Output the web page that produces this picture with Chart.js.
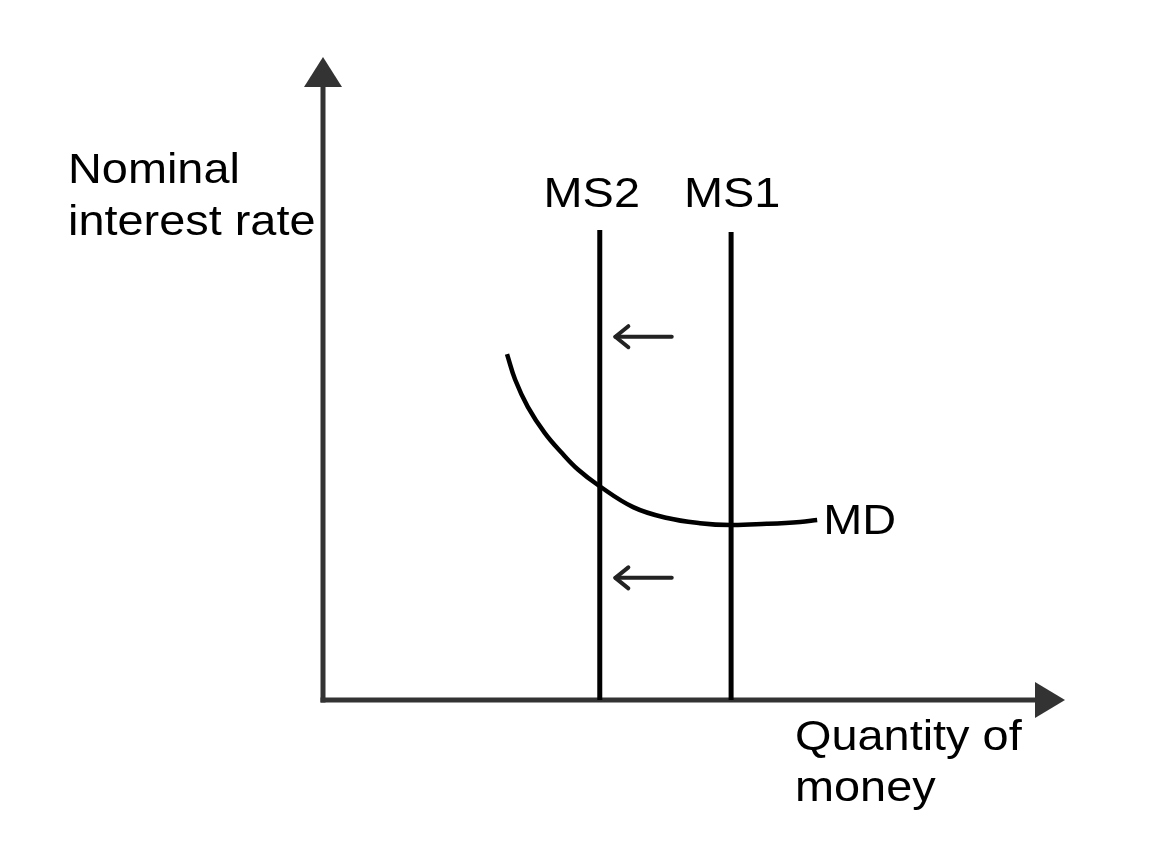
<!DOCTYPE html>
<html>
<head>
<meta charset="utf-8">
<script src="https://cdn.jsdelivr.net/npm/chart.js@4.4.1/dist/chart.umd.min.js"></script>
<style>
html,body{margin:0;padding:0;background:#fff;}
#c{display:block;}
</style>
</head>
<body>
<canvas id="c" width="1170" height="850"></canvas>
<script>
// ---- data (abstract units: x 0..100 quantity, y 0..100 interest rate) ----
const mdX = [24.8, 25.9, 27.6, 29.9, 32.2, 34.4, 37.1, 41.8, 46.4, 50.8, 54.9, 59.8, 64.3, 66.6];
const mdY = [53.8, 49.8, 45.6, 41.5, 38.4, 35.8, 33.4, 30.0, 28.3, 27.5, 27.2, 27.4, 27.7, 28.0];
const msNames = ['MS2', 'MS1'];
const msX = [37.3, 55.0];
const msTop = [73.1, 72.8];
const shiftArrowY = [56.5, 19.0];
const shiftArrowFrom = 47.0;
const shiftArrowTo = 39.4;
const yTitle = ['Nominal', 'interest rate'];
const xTitle = ['Quantity of', 'money'];
const mdLabel = 'MD';

const FONT = '43px "Liberation Sans", Arial, sans-serif';
const STRETCH = 1.09;
const msLabelShift = [-8, 1];

const datasets = [];
datasets.push({
  label: 'MD',
  data: mdX.map((x, i) => ({x, y: mdY[i]})),
  borderColor: '#000', borderWidth: 4.5, tension: 0.4,
  pointRadius: 0, fill: false, showLine: true
});
msNames.forEach((n, i) => {
  datasets.push({
    label: n,
    data: [{x: msX[i], y: 0}, {x: msX[i], y: msTop[i]}],
    borderColor: '#000', borderWidth: 5, pointRadius: 0,
    fill: false, showLine: true, tension: 0
  });
});

function text(ctx, s, x, y, align) {
  ctx.save();
  const w = ctx.measureText(s).width * STRETCH;
  const left = align === 'center' ? x - w / 2 : x;
  ctx.translate(left, y);
  ctx.scale(STRETCH, 1);
  ctx.textAlign = 'left';
  ctx.fillText(s, 0, 0);
  ctx.restore();
}

const decor = {
  id: 'decor',
  beforeDatasetsDraw(chart) {
    const {ctx, chartArea: a} = chart;
    ctx.save();
    ctx.strokeStyle = '#333';
    ctx.fillStyle = '#333';
    ctx.lineWidth = 5;
    // y axis
    ctx.beginPath();
    ctx.moveTo(a.left, a.bottom + 2.5);
    ctx.lineTo(a.left, a.top + 25);
    ctx.stroke();
    ctx.beginPath();
    ctx.moveTo(a.left, a.top);
    ctx.lineTo(a.left - 19, a.top + 30);
    ctx.lineTo(a.left + 19, a.top + 30);
    ctx.closePath();
    ctx.fill();
    // x axis
    ctx.beginPath();
    ctx.moveTo(a.left - 2.5, a.bottom);
    ctx.lineTo(a.right - 25, a.bottom);
    ctx.stroke();
    ctx.beginPath();
    ctx.moveTo(a.right, a.bottom);
    ctx.lineTo(a.right - 30, a.bottom - 18);
    ctx.lineTo(a.right - 30, a.bottom + 18);
    ctx.closePath();
    ctx.fill();
    ctx.restore();
  },
  afterDatasetsDraw(chart) {
    const {ctx, scales: {x, y}} = chart;
    ctx.save();
    // shift arrows
    ctx.strokeStyle = '#222';
    ctx.lineWidth = 4;
    ctx.lineCap = 'round';
    ctx.lineJoin = 'round';
    shiftArrowY.forEach(v => {
      const py = y.getPixelForValue(v);
      const x1 = x.getPixelForValue(shiftArrowFrom);
      const x2 = x.getPixelForValue(shiftArrowTo);
      ctx.beginPath();
      ctx.moveTo(x1, py);
      ctx.lineTo(x2, py);
      ctx.stroke();
      ctx.beginPath();
      ctx.moveTo(x2 + 13, py - 10.5);
      ctx.lineTo(x2, py);
      ctx.lineTo(x2 + 13, py + 10.5);
      ctx.stroke();
    });
    // labels
    ctx.fillStyle = '#000';
    ctx.font = FONT;
    ctx.textBaseline = 'alphabetic';
    const topPx = Math.min(...msTop.map(v => y.getPixelForValue(v)));
    msNames.forEach((n, i) => {
      text(ctx, n, x.getPixelForValue(msX[i]) + msLabelShift[i], topPx - 23, 'center');
    });
    const mdEnd = mdX.length - 1;
    text(ctx, mdLabel, x.getPixelForValue(mdX[mdEnd]) + 6, y.getPixelForValue(mdY[mdEnd]) + 14, 'left');
    text(ctx, yTitle[0], 68, 183, 'left');
    text(ctx, yTitle[1], 68, 235, 'left');
    text(ctx, xTitle[0], 795, 750, 'left');
    text(ctx, xTitle[1], 795, 801, 'left');
    ctx.restore();
  }
};

new Chart(document.getElementById('c'), {
  type: 'scatter',
  data: {datasets},
  options: {
    responsive: false,
    animation: false,
    layout: {padding: {left: 323, right: 105, top: 57, bottom: 150}},
    plugins: {legend: {display: false}, tooltip: {enabled: false}},
    scales: {
      x: {type: 'linear', min: 0, max: 100, display: false},
      y: {type: 'linear', min: 0, max: 100, display: false}
    }
  },
  plugins: [decor]
});
</script>
</body>
</html>
